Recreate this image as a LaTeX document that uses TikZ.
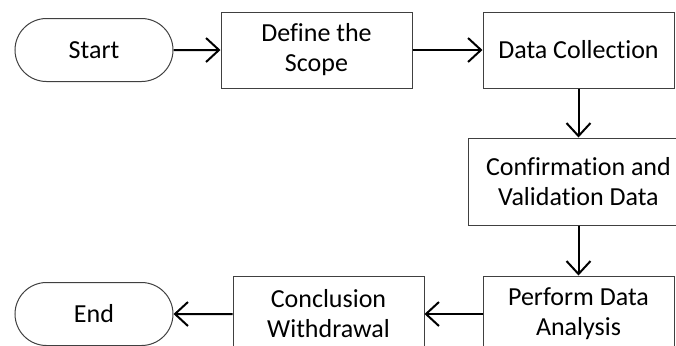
\documentclass[tikz,border=0pt]{standalone}
\usepackage{fontspec}
\setmainfont{Carlito}[Ligatures=NoCommon]
\usepackage{tikz}
\usetikzlibrary{positioning, arrows.meta, shapes.misc}

\begin{document}
\begin{tikzpicture}[
    terminal/.style={
        draw=black!75,
        line width=0.5pt,
        rounded rectangle,
        align=center,
        inner sep=0pt,
        minimum width=79pt,
        minimum height=31.5pt,
        font=\fontsize{13}{15}\selectfont
    },
    box/.style={
        draw=black!75,
        line width=0.5pt,
        align=center,
        inner sep=0pt,
        minimum width=95.5pt,
        minimum height=38pt,
        font=\fontsize{13}{15}\selectfont
    },
    widebox/.style={
        box,
        minimum width=110pt,
        minimum height=43.5pt
    },
    arrow/.style={
        -{Straight Barb[length=6.5pt,width=12pt]},
        line width=1pt
    }
]

% Frame (the picture is cut at the right and bottom)
\clip (0,0) rectangle (338pt,-172.5pt);

% Top row
\node[terminal] (start) at (47pt,-25pt) {Start};
\node[box, right=23.5pt of start] (scope) {Define the\\Scope};
\node[box, right=35pt of scope] (collect) {Data Collection};

% Right column
\node[widebox, below=24.5pt of collect] (confirm) {Confirmation and\\Validation Data};
\node[box, below=25pt of confirm] (analysis) {Perform Data\\Analysis};

% Bottom row
\node[box, left=29pt of analysis] (conclude) {Conclusion\\Withdrawal};
\node[terminal, left=29.5pt of conclude] (finish) {End};

% Arrows
\draw[arrow] (start) -- (scope);
\draw[arrow] (scope) -- (collect);
\draw[arrow] (collect) -- (confirm);
\draw[arrow] (confirm) -- (analysis);
\draw[arrow] (analysis) -- (conclude);
\draw[arrow] (conclude) -- (finish);

\end{tikzpicture}
\end{document}
